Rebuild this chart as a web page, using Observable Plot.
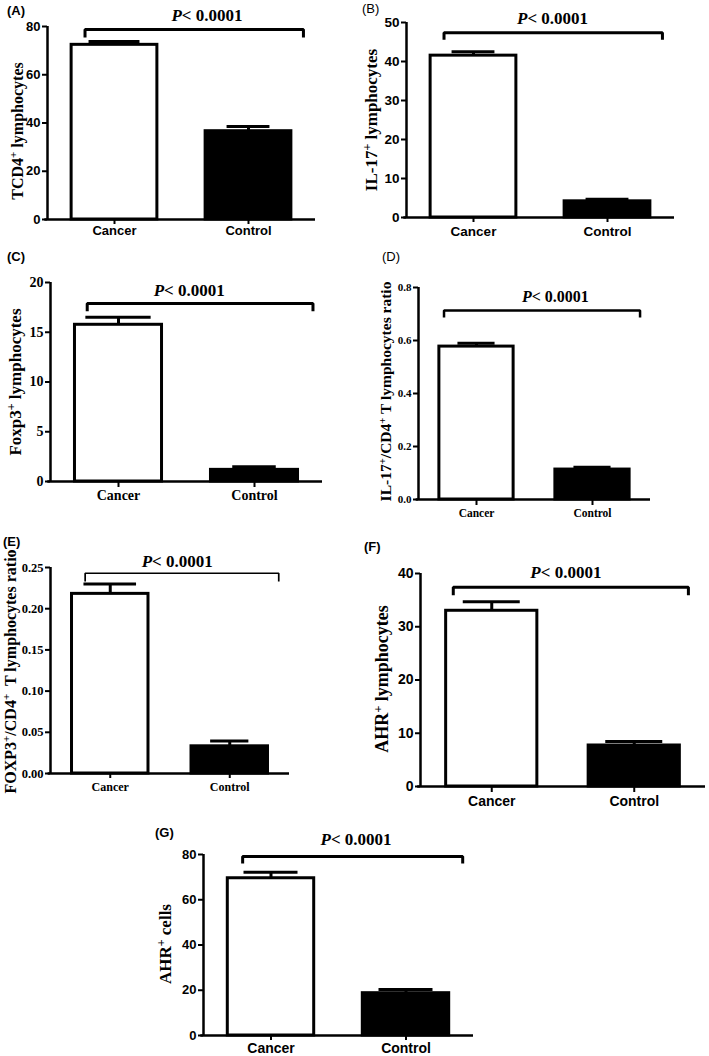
<!DOCTYPE html>
<html><head><meta charset="utf-8">
<script src="https://cdn.jsdelivr.net/npm/d3@7"></script>
<script src="https://cdn.jsdelivr.net/npm/@observablehq/plot@0.6"></script>
<style>
html,body{margin:0;padding:0;background:#fff;}
#fig{position:relative;width:709px;height:1056px;overflow:hidden;background:#fff;}
#fig svg{position:absolute;overflow:visible;}
.tag{position:absolute;font-family:"Liberation Sans",Arial,sans-serif;font-size:13px;line-height:13px;color:#000;white-space:nowrap;}
</style></head><body><div id="fig"></div>
<script>
// ---------- data ----------
const panelIds = ["A", "B", "C", "D", "E", "F", "G"];
const groups = ["Cancer", "Control"];
const cancerMean = [72.4, 41.5, 15.75, 0.577, 0.218, 33.0, 69.5];
const cancerErr = [1.4, 1.0, 0.75, 0.013, 0.012, 1.7, 2.7];
const controlMean = [36.6, 4.15, 1.17, 0.113, 0.033, 7.7, 18.7];
const controlErr = [1.9, 0.5, 0.3, 0.009, 0.0065, 0.75, 1.6];
const yLabels = [
  "TCD4⁺ lymphocytes",
  "IL-17⁺ lymphocytes",
  "Foxp3⁺ lymphocytes",
  "IL-17⁺/CD4⁺ T lymphocytes ratio",
  "FOXP3⁺/CD4⁺  T lymphocytes ratio",
  "AHR⁺ lymphocytes",
  "AHR⁺ cells"
];
const yMax = [80, 50, 20, 0.8, 0.25, 40, 80];
const yStep = [20, 10, 5, 0.2, 0.05, 10, 20];
const tickDecimals = [0, 0, 0, 1, 2, 0, 0];
const pText = "P< 0.0001";
const pLevel = [82.1, 49.5, 18.6, 0.745, 0.251, 39.2, 84.0];
const bracketTop = [78.8, 47.4, 17.9, 0.713, 0.243, 37.4, 79.1];
const bracketFoot = [75.4, 45.6, 17.1, 0.687, 0.233, 35.9, 76.0];

// ---------- layout / style ----------
const SANS = '"Liberation Sans", Arial, sans-serif';
const SERIF = '"Liberation Serif", "Times New Roman", serif';
const layout = [
  {left:0,   top:0,   w:354, h:250, ml:47, mr:39, mt:26, mb:31, tf:SANS,  tfs:13,   xfs:13,   xts:5, xtp:1, lfs:16,   ldx:-30, ldy:8,  pfs:17, px:0.69, bw:3,   br:[-0.22,1.41], cap:[0.19,0.16], tag:{x:7,  y:4,   bold:true}},
  {left:354, top:0,   w:355, h:250, ml:52, mr:35, mt:22, mb:33, tf:SANS,  tfs:13.5, xfs:13.5, xts:5, xtp:4, lfs:17,   ldx:-35, ldy:0,  pfs:17, px:0.59, bw:3,   br:[-0.22,1.41], cap:[0.16,0.16], tag:{x:362,y:2,   bold:false}},
  {left:0,   top:250, w:354, h:265, ml:50, mr:32, mt:32, mb:34, tf:SERIF, tfs:14,   xfs:14,   xts:6, xtp:3, lfs:17,   ldx:-35, ldy:0,  pfs:17, px:0.52, bw:3,   br:[-0.23,1.43], cap:[0.24,0.16], tag:{x:7,  y:250, bold:true}},
  {left:354, top:250, w:355, h:270, ml:64, mr:59, mt:37, mb:21, tf:SERIF, tfs:11,   xfs:11.5, xts:6, xtp:3, lfs:15.5, ldx:-32, ldy:-2, pfs:16, px:0.68, bw:2.5, br:[-0.28,1.41], cap:[0.16,0.16], tag:{x:382,y:250, bold:false}},
  {left:0,   top:520, w:354, h:280, ml:50, mr:65, mt:47, mb:27, tf:SERIF, tfs:12.5, xfs:12,   xts:5, xtp:4, lfs:16,   ldx:-40, ldy:1,  pfs:17, px:0.56, bw:1.7, br:[-0.21,1.41], cap:[0.22,0.16], tag:{x:3,  y:535, bold:true}},
  {left:354, top:520, w:355, h:290, ml:66, mr:4,  mt:53, mb:24, tf:SANS,  tfs:14,   xfs:14,   xts:6, xtp:4, lfs:18,   ldx:-38, ldy:-1, pfs:17, px:0.52, bw:3,   br:[-0.27,1.38], cap:[0.2,0.2],   tag:{x:364,y:540, bold:true}},
  {left:120, top:810, w:400, h:246, ml:83, mr:47, mt:44, mb:21, tf:SANS,  tfs:13,   xfs:14,   xts:5, xtp:3, lfs:17,   ldx:-38, ldy:-1, pfs:17, px:0.63, bw:3,   br:[-0.21,1.42], cap:[0.2,0.2],   tag:{x:155,y:826, bold:true}}
];
const barFill = ["white", "black"];
const HW = 0.32;
const NS = "http://www.w3.org/2000/svg";

function richen(svg) {
  svg.querySelectorAll("text").forEach(t => {
    const s = t.textContent;
    if (s.includes("⁺")) {
      const parts = s.split("⁺");
      t.textContent = "";
      parts.forEach((p, j) => {
        const a = document.createElementNS(NS, "tspan");
        a.textContent = p;
        if (j > 0) a.setAttribute("dy", "0.35em");
        t.appendChild(a);
        if (j < parts.length - 1) {
          const sup = document.createElementNS(NS, "tspan");
          sup.textContent = "+";
          sup.setAttribute("font-size", "70%");
          sup.setAttribute("dy", "-0.5em");
          t.appendChild(sup);
        }
      });
    } else if (s.startsWith("P<")) {
      t.textContent = "";
      const a = document.createElementNS(NS, "tspan");
      a.textContent = "P";
      a.setAttribute("font-style", "italic");
      const b = document.createElementNS(NS, "tspan");
      b.textContent = s.slice(1);
      t.appendChild(a); t.appendChild(b);
    }
  });
}

const fig = document.getElementById("fig");

panelIds.forEach((id, i) => {
  const L = layout[i];
  const rows = groups.map((g, k) => ({
    k, g,
    mean: k === 0 ? cancerMean[i] : controlMean[i],
    err: k === 0 ? cancerErr[i] : controlErr[i]
  }));
  const ticks = d3.range(0, yMax[i] + yStep[i] / 2, yStep[i]);
  const fmt = d3.format(`.${tickDecimals[i]}f`);
  const bracket = [
    [L.br[0], bracketFoot[i]], [L.br[0], bracketTop[i]],
    [L.br[1], bracketTop[i]], [L.br[1], bracketFoot[i]]
  ];
  const svg = Plot.plot({
    width: L.w, height: L.h,
    marginLeft: L.ml, marginRight: L.mr, marginTop: L.mt, marginBottom: L.mb,
    x: {domain: [-0.5, 1.5], axis: null},
    y: {domain: [0, yMax[i]], axis: null},
    style: {background: "transparent", overflow: "visible", color: "black"},
    marks: [
      ...rows.map(r => Plot.rectY([r], {
        x1: d => d.k - HW, x2: d => d.k + HW, y1: 0, y2: "mean",
        fill: barFill[r.k], stroke: "black", strokeWidth: 3
      })),
      Plot.ruleX(rows, {x: "k", y1: "mean", y2: d => d.mean + d.err, stroke: "black", strokeWidth: 3}),
      Plot.ruleY(rows, {y: d => d.mean + d.err, x1: d => d.k - L.cap[d.k], x2: d => d.k + L.cap[d.k], stroke: "black", strokeWidth: 3}),
      Plot.ruleX([-0.5], {y1: 0, y2: yMax[i], stroke: "black", strokeWidth: 2.5}),
      Plot.ruleY([0], {x1: -0.52, x2: 1.5, stroke: "black", strokeWidth: 2.5}),
      Plot.axisY(ticks, {
        tickSize: 5, tickPadding: 2, tickFormat: fmt, label: null,
        fontFamily: L.tf, fontWeight: "bold", fontSize: L.tfs, strokeWidth: 2
      }),
      Plot.axisX([0, 1], {
        tickSize: L.xts, tickPadding: L.xtp, tickFormat: k => groups[k], label: null,
        fontFamily: L.tf, fontWeight: "bold", fontSize: L.xfs, strokeWidth: 2
      }),
      Plot.text([yLabels[i]], {
        text: d => d, frameAnchor: "left", rotate: -90, dx: L.ldx, dy: L.ldy,
        textAnchor: "middle", lineAnchor: "middle",
        fontFamily: SERIF, fontWeight: "bold", fontSize: L.lfs, fill: "black"
      }),
      Plot.line(bracket, {
        x: d => d[0], y: d => d[1], stroke: "black", strokeWidth: L.bw,
        strokeLinejoin: "miter", strokeLinecap: "butt"
      }),
      Plot.text([pText], {
        text: d => d, x: L.px, y: pLevel[i], lineAnchor: "bottom",
        fontFamily: SERIF, fontWeight: "bold", fontSize: L.pfs, fill: "black"
      })
    ]
  });
  svg.style.left = L.left + "px";
  svg.style.top = L.top + "px";
  richen(svg);
  fig.appendChild(svg);

  const tag = document.createElement("div");
  tag.className = "tag";
  tag.textContent = `(${id})`;
  tag.style.left = L.tag.x + "px";
  tag.style.top = L.tag.y + "px";
  tag.style.fontWeight = L.tag.bold ? "bold" : "normal";
  fig.appendChild(tag);
});
</script>
</body></html>
